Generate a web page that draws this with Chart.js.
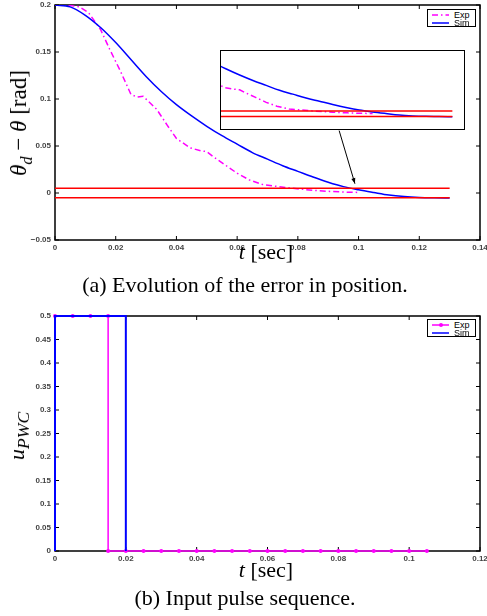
<!DOCTYPE html>
<html>
<head>
<meta charset="utf-8">
<script src="https://cdn.jsdelivr.net/npm/chart.js@4.4.0/dist/chart.umd.min.js"></script>
<style>
  body { margin: 0; background: #fff; }
  #page { position: relative; width: 487px; height: 616px; overflow: hidden; background: #fff;
          font-family: "Liberation Serif", "DejaVu Serif", serif; color: #000; }
  canvas { position: absolute; }
  .txt { position: absolute; font-size: 22px; line-height: 22px; white-space: nowrap; }
  .rot { transform: translate(-50%, -50%) rotate(-90deg); }
  .ctr { transform: translateX(-50%); }
  sub { font-size: 72%; line-height: 0; }
  .leg { position: absolute; border: 1px solid #000; background: #fff; box-sizing: border-box;
         width: 49px; height: 18px; padding-top: 0.5px;
         font-family: "Liberation Sans", Arial, sans-serif; font-size: 9px; line-height: 8px; }
  .leg .row { display: flex; align-items: center; height: 8px; }
  .leg svg { margin-left: 4px; margin-right: 5px; }
  #inset { position: absolute; left: 220px; top: 50px; width: 245px; height: 80px;
           border: 1.5px solid #000; box-sizing: border-box; background: #fff; }
</style>
</head>
<body>
<div id="page">
  <canvas id="c1" width="487" height="262" style="left:0;top:0"></canvas>
  <div id="inset"><canvas id="c1i" width="242" height="77" style="left:0;top:0"></canvas></div>
  <div class="leg" id="leg1" style="left:427px;top:9px"></div>
  <div class="txt rot" style="left:19px;top:123px;font-size:23px"><i>θ<sub>d</sub></i> − <i>θ</i> [rad]</div>
  <div class="txt ctr" style="left:266px;top:241px"><i>t</i> [sec]</div>
  <div class="txt ctr" style="left:245px;top:274px">(a) Evolution of the error in position.</div>

  <canvas id="c2" width="487" height="273" style="left:0;top:300px"></canvas>
  <div class="leg" id="leg2" style="left:427px;top:319px"></div>
  <div class="txt rot" style="left:17px;top:436px"><i>u<sub style="font-size:80%">PWC</sub></i></div>
  <div class="txt ctr" style="left:266px;top:559px"><i>t</i> [sec]</div>
  <div class="txt ctr" style="left:245px;top:587px">(b) Input pulse sequence.</div>
</div>
<script>
// (a) position error, rad
const simT = [0, 0.005, 0.01, 0.015, 0.02, 0.025, 0.03, 0.035, 0.04, 0.045, 0.05, 0.055, 0.06, 0.065,
  0.07, 0.075, 0.08, 0.085, 0.09, 0.095, 0.1, 0.105, 0.11, 0.115, 0.12, 0.125, 0.13];
const simErr = [0.2, 0.198, 0.189, 0.176, 0.160, 0.142, 0.124, 0.108, 0.094, 0.082, 0.071, 0.061, 0.052, 0.043,
  0.036, 0.029, 0.023, 0.017, 0.0115, 0.0068, 0.0034, 0.0005, -0.0022, -0.0038, -0.0047, -0.0051, -0.0053];
const expT = [0, 0.004, 0.008, 0.011, 0.015, 0.018, 0.0215, 0.025, 0.027, 0.029, 0.0335, 0.037, 0.040,
  0.0445, 0.048, 0.050, 0.052, 0.056, 0.060, 0.064, 0.0686, 0.0774, 0.085, 0.0906, 0.095, 0.1];
const expErr = [0.2, 0.2, 0.198, 0.192, 0.174, 0.153, 0.130, 0.105, 0.102, 0.103, 0.089, 0.072, 0.058,
  0.048, 0.045, 0.044, 0.039, 0.030, 0.021, 0.014, 0.0088, 0.0053, 0.0028, 0.0017, 0.001, 0.0006];
const bandT = [0, 0.13];
const bandUp = [0.005, 0.005];
const bandLo = [-0.005, -0.005];
const arrowFrom = [0.0936, 0.0664];
const arrowTo = [0.0988, 0.0099];

// (b) input pulses
const pulseExpT = [0, 0.005, 0.01, 0.015, 0.015, 0.02, 0.025, 0.03, 0.035, 0.04, 0.045, 0.05, 0.055, 0.06,
  0.065, 0.07, 0.075, 0.08, 0.085, 0.09, 0.095, 0.1, 0.105];
const pulseExpU = [0.5, 0.5, 0.5, 0.5, 0, 0, 0, 0, 0, 0, 0, 0, 0, 0, 0, 0, 0, 0, 0, 0, 0, 0, 0];
const pulseSimT = [0, 0, 0.02, 0.02];
const pulseSimU = [0, 0.5, 0.5, 0];

const MAG = '#ff00ff', BLUE = '#0000ff', RED = '#ff0000';
const pts = (xs, ys) => xs.map((x, i) => ({ x: x, y: ys[i] }));
const fmt = v => String(Number(v.toFixed(2))).replace('-', '\u2212');
const tickFont = { family: 'Liberation Sans', size: 8, weight: 'bold' };

// box + inward ticks like matlab, drawn under the data
const frame = {
  id: 'frame',
  beforeDatasetsDraw(chart) {
    const { ctx, chartArea: a, scales } = chart;
    ctx.save();
    ctx.strokeStyle = '#000';
    ctx.lineWidth = 1.5;
    ctx.strokeRect(a.left, a.top, a.right - a.left, a.bottom - a.top);
    ctx.lineWidth = 1;
    ctx.beginPath();
    scales.x.ticks.forEach(t => {
      const px = scales.x.getPixelForValue(t.value);
      ctx.moveTo(px, a.bottom); ctx.lineTo(px, a.bottom - 4);
      ctx.moveTo(px, a.top); ctx.lineTo(px, a.top + 4);
    });
    scales.y.ticks.forEach(t => {
      const py = scales.y.getPixelForValue(t.value);
      ctx.moveTo(a.left, py); ctx.lineTo(a.left + 4, py);
      ctx.moveTo(a.right, py); ctx.lineTo(a.right - 4, py);
    });
    ctx.stroke();
    ctx.restore();
  },
  afterDatasetsDraw(chart, args, opts) {
    if (!opts.arrow) return;
    const { ctx, scales } = chart;
    const x0 = scales.x.getPixelForValue(opts.arrow[0][0]), y0 = scales.y.getPixelForValue(opts.arrow[0][1]);
    const x1 = scales.x.getPixelForValue(opts.arrow[1][0]), y1 = scales.y.getPixelForValue(opts.arrow[1][1]);
    const ang = Math.atan2(y1 - y0, x1 - x0);
    ctx.save();
    ctx.strokeStyle = '#000'; ctx.fillStyle = '#000'; ctx.lineWidth = 1;
    ctx.beginPath(); ctx.moveTo(x0, y0); ctx.lineTo(x1, y1); ctx.stroke();
    ctx.beginPath();
    ctx.moveTo(x1, y1);
    ctx.lineTo(x1 - 6 * Math.cos(ang - 0.35), y1 - 6 * Math.sin(ang - 0.35));
    ctx.lineTo(x1 - 6 * Math.cos(ang + 0.35), y1 - 6 * Math.sin(ang + 0.35));
    ctx.closePath(); ctx.fill();
    ctx.restore();
  }
};

function xAxis(min, max, step) {
  return {
    type: 'linear', min: min, max: max,
    ticks: { stepSize: step, padding: 3, color: '#444', font: tickFont, maxRotation: 0, autoSkip: false, callback: fmt },
    grid: { display: false, drawTicks: false }, border: { display: false },
    afterFit: s => { s.height = 22; s.paddingLeft = 0; s.paddingRight = 0; }
  };
}
function yAxis(min, max, step) {
  return {
    type: 'linear', min: min, max: max,
    ticks: { stepSize: step, padding: 4, color: '#444', font: tickFont, autoSkip: false, callback: fmt },
    grid: { display: false, drawTicks: false }, border: { display: false },
    afterFit: s => { s.width = 55; s.paddingTop = 0; s.paddingBottom = 0; }
  };
}

function errorSets(lw) {
  return [
    { label: 'Exp', data: pts(expT, expErr), borderColor: MAG, borderWidth: lw, borderDash: [6, 3, 1.5, 3], order: 2 },
    { label: 'Sim', data: pts(simT, simErr), borderColor: BLUE, borderWidth: lw, cubicInterpolationMode: 'monotone', order: 1 },
    { label: 'band+', data: pts(bandT, bandUp), borderColor: RED, borderWidth: lw, order: 0 },
    { label: 'band-', data: pts(bandT, bandLo), borderColor: RED, borderWidth: lw, order: 0 }
  ];
}

const common = {
  responsive: false, animation: false, events: [],
  elements: { point: { radius: 0 }, line: { fill: false } },
};

new Chart(document.getElementById('c1'), {
  type: 'line',
  data: { datasets: errorSets(1.5) },
  options: Object.assign({}, common, {
    layout: { padding: { left: 0, right: 7, top: 5, bottom: 0 } },
    scales: { x: xAxis(0, 0.14, 0.02), y: yAxis(-0.05, 0.2, 0.05) },
    plugins: { legend: { display: false }, tooltip: { enabled: false }, frame: { arrow: [arrowFrom, arrowTo] } }
  }),
  plugins: [frame]
});

// zoomed inset of the settling region
new Chart(document.getElementById('c1i'), {
  type: 'line',
  data: { datasets: errorSets(1.5) },
  options: Object.assign({}, common, {
    layout: { padding: 0 },
    scales: {
      x: { type: 'linear', display: false, min: 0.043, max: 0.134 },
      y: { type: 'linear', display: false, min: -0.026, max: 0.115 }
    },
    plugins: { legend: { display: false }, tooltip: { enabled: false } }
  })
});

new Chart(document.getElementById('c2'), {
  type: 'line',
  data: {
    datasets: [
      { label: 'Exp', data: pts(pulseExpT, pulseExpU), borderColor: MAG, borderWidth: 1.5, pointRadius: 2,
        pointBackgroundColor: MAG, pointBorderWidth: 0, clip: false, order: 2 },
      { label: 'Sim', data: pts(pulseSimT, pulseSimU), borderColor: BLUE, borderWidth: 2, clip: false, order: 1 }
    ]
  },
  options: Object.assign({}, common, {
    layout: { padding: { left: 0, right: 7, top: 16, bottom: 0 } },
    scales: { x: xAxis(0, 0.12, 0.02), y: yAxis(0, 0.5, 0.05) },
    plugins: { legend: { display: false }, tooltip: { enabled: false }, frame: {} }
  }),
  plugins: [frame]
});

// small legends, built from the dataset labels
function legend(el, items) {
  el.innerHTML = items.map(it => {
    const dash = it.dash ? ` stroke-dasharray="${it.dash}"` : '';
    const dot = it.marker ? `<circle cx="9" cy="4" r="2" fill="${it.color}"/>` : '';
    return `<div class="row"><svg width="17" height="8"><line x1="0" y1="4" x2="17" y2="4" stroke="${it.color}" stroke-width="1.5"${dash}/>${dot}</svg><span>${it.label}</span></div>`;
  }).join('');
}
legend(document.getElementById('leg1'), [
  { label: 'Exp', color: MAG, dash: '6 3 1.5 3' },
  { label: 'Sim', color: BLUE }
]);
legend(document.getElementById('leg2'), [
  { label: 'Exp', color: MAG, marker: true },
  { label: 'Sim', color: BLUE }
]);
</script>
</body>
</html>
